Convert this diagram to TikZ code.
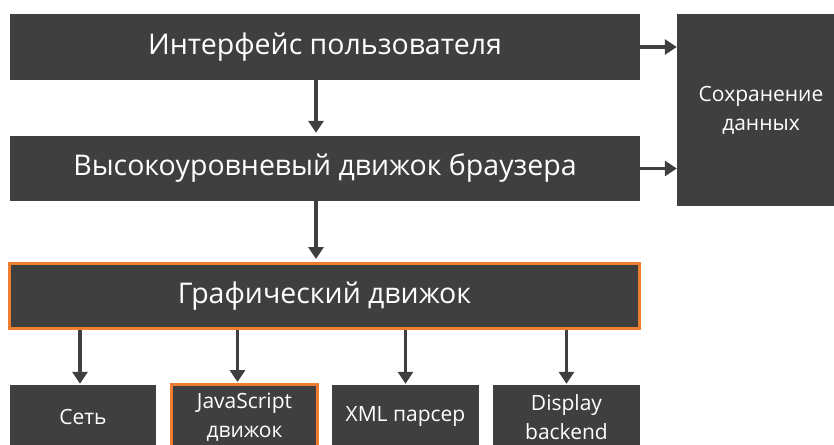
\documentclass[tikz,border=0pt]{standalone}
\usepackage{fontspec}
\setmainfont{Open Sans}
\usetikzlibrary{arrows.meta}

\definecolor{boxgray}{HTML}{3F3F3F}
\definecolor{hotorange}{HTML}{ED7D31}

\tikzset{
  blk/.style={fill=boxgray, text=white, inner sep=0pt, align=center},
  big/.style={font=\fontsize{28.5}{34}\selectfont},
  small/.style={font=\fontsize{21}{29}\selectfont},
  hot/.style={draw=hotorange, line width=3pt},
  link/.style={draw=boxgray, line width=3.5pt, shorten >=3pt,
    -{Triangle[width=15pt,length=12pt]}}
}

\begin{document}
\begin{tikzpicture}[x=1pt,y=-1pt]
\useasboundingbox (0,0) rectangle (834,444);

% main layers
\node[blk, big, minimum width=630, minimum height=66] (ui) at (325,47) {Интерфейс пользователя};
\node[blk, big, minimum width=630, minimum height=65] (engine) at (325,168.5) {Высокоуровневый движок браузера};
\node[blk, big, hot, minimum width=630, minimum height=65] (render) at (324.5,296) {Графический движок};
\node[blk, small, minimum width=168, minimum height=192] (store) at (761,110) {Сохранение\\данных};

% subsystems
\node[blk, small, minimum width=146, minimum height=64] (net) at (83,417) {Сеть};
\node[blk, small, hot, minimum width=146, minimum height=65] (js) at (244.5,417) {JavaScript\\движок};
\node[blk, small, minimum width=147, minimum height=64] (xml) at (405.5,417) {XML парсер};
\node[blk, small, minimum width=147, minimum height=64] (disp) at (566.5,417) {Display\\backend};

\coordinate (spine) at (316,0);
\draw[link] (ui.south -| spine) -- (engine.north -| spine);
\draw[link] (engine.south -| spine) -- (render.north -| spine);
\draw[link, shorten >=0pt] (ui.east) -- (ui.east -| store.west);
\draw[link, shorten >=0pt] (engine.east) -- (engine.east -| store.west);

\foreach \sub/\dx in {net/-3, js/-7, xml/0, disp/0}
  \draw[link, shorten >=1pt] ([xshift=\dx pt]render.south -| \sub.north) -- ([xshift=\dx pt]\sub.north);
\end{tikzpicture}
\end{document}
